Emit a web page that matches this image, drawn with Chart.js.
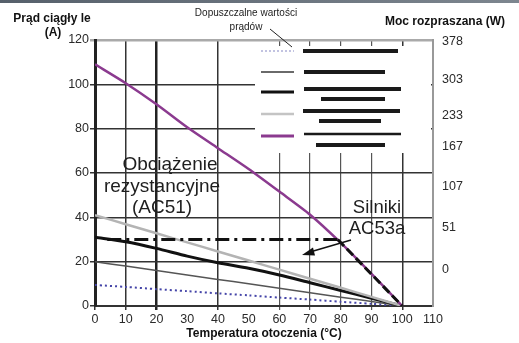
<!DOCTYPE html>
<html><head><meta charset="utf-8">
<script src="https://cdn.jsdelivr.net/npm/chart.js@4/dist/chart.umd.min.js"></script>
<style>html,body{margin:0;padding:0;background:#fff;}#wrap{position:relative;width:519px;height:343px;}</style>
</head><body><div id="wrap"><canvas id="c" width="519" height="343"></canvas></div>
<script>
// ---- data ----
const temperature   = [0, 10, 20, 30, 40, 50, 60, 70, 80, 90, 100];
const seriesPurple  = [109, 100.5, 91, 80.6, 71.2, 61.8, 51.6, 41.2, 28.5, 14.5, 0];
const seriesLight   = [41, 36.9, 32.8, 28.7, 24.6, 20.5, 16.4, 12.3, 8.2, 4.1, 0];
const seriesBlack   = [31, 29, 26, 22.5, 19.5, 17, 14, 10.5, 7, 3.5, 0];
const seriesGray    = [20, 18, 16, 14, 12, 10, 8, 6, 4, 2, 0];
const seriesDotted  = [9.5, 8.6, 7.6, 6.7, 5.7, 4.8, 3.8, 2.9, 1.9, 1, 0];
const motorTemp     = [4, 79, 100];
const motorCurrent  = [30, 30, 0];
const rightTickLabels = ['0', '51', '107', '167', '233', '303', '378'];
const rightTickAt     = [16.5, 35.3, 53.8, 71.9, 85.7, 102.3, 119.1];

const FONT = '"Liberation Sans", Arial, Helvetica, sans-serif';
const pts = (xs, ys) => xs.map((x, i) => ({x, y: ys[i]}));

const overlay = {
  id: 'overlay',
  beforeDraw(chart) {
    const c = chart.ctx;
    c.save();
    c.fillStyle = '#fff'; c.fillRect(0, 0, chart.width, chart.height);
    const g = c.createLinearGradient(0, 0, chart.width, 0);
    g.addColorStop(0, '#56606b'); g.addColorStop(1, '#7d868f');
    c.fillStyle = g; c.fillRect(0, 0, chart.width, 3);
    c.restore();
  },
  beforeDatasetsDraw(chart) {
    const c = chart.ctx;
    c.save();
    c.fillStyle = '#fff';
    c.fillRect(255, 46, 176, 107);
    c.restore();
  },
  afterDraw(chart) {
    const c = chart.ctx;
    c.save();
    // legend samples
    const rows = [
      {y: 51,  color: '#aeb0d8', w: 1.5, dash: [2, 2]},
      {y: 72,  color: '#6a6a6a', w: 2,   dash: []},
      {y: 92,  color: '#111',    w: 3,   dash: []},
      {y: 114, color: '#c4c4c4', w: 2.5, dash: []},
      {y: 136, color: '#8b3a8f', w: 3,   dash: []}
    ];
    rows.forEach(r => {
      c.beginPath(); c.setLineDash(r.dash); c.lineWidth = r.w; c.strokeStyle = r.color;
      c.moveTo(261, r.y); c.lineTo(294, r.y); c.stroke();
    });
    c.setLineDash([]);
    // redaction bars in the legend
    c.fillStyle = '#1a1a1a';
    [[303,398,51,4],[304,385,72,4],[304,401,89,4],[321,385,99,4],[303,400,111,4],[319,381,121,4],[304,401,134,2.5],[316,385,145,4]]
      .forEach(b => c.fillRect(b[0], b[2] - b[3]/2, b[1]-b[0], b[3]));
    // legend title + leader
    c.fillStyle = '#222'; c.textAlign = 'center'; c.textBaseline = 'middle';
    c.font = '10px ' + FONT;
    c.fillText('Dopuszczalne wartości', 246, 13);
    c.fillText('prądów', 246, 27);
    c.beginPath(); c.strokeStyle = '#222'; c.lineWidth = 1;
    c.moveTo(270, 29); c.lineTo(292, 47); c.stroke();
    // axis titles
    c.font = 'bold 12px ' + FONT; c.fillStyle = '#111';
    c.fillText('Prąd ciągły le', 52, 19);
    c.fillText('(A)', 53, 33);
    c.fillText('Moc rozpraszana (W)', 445, 22);
    // annotations
    c.font = '19px ' + FONT; c.fillStyle = '#1e1e1e';
    c.fillText('Obciążenie', 170, 165);
    c.fillText('rezystancyjne', 162, 187);
    c.fillText('(AC51)', 162, 208);
    c.font = '18.5px ' + FONT;
    c.fillText('Silniki', 377, 208);
    c.fillText('AC53a', 377, 229);
    // arrow
    c.beginPath(); c.strokeStyle = '#111'; c.lineWidth = 1.5;
    c.moveTo(351, 240); c.lineTo(310, 252); c.stroke();
    c.beginPath(); c.fillStyle = '#111';
    c.moveTo(302, 255); c.lineTo(313, 247.5); c.lineTo(315, 255.5); c.closePath(); c.fill();
    c.restore();
  }
};

const xGrid = {10:['#333',1.5],20:['#222',2.5],30:['rgba(0,0,0,0)',0],40:['#333',1.5],50:['rgba(0,0,0,0)',0],
  60:['#555',1.2],70:['#555',1.2],80:['#555',1.2],90:['#555',1.2],100:['#333',1.5],110:['rgba(0,0,0,0)',0]};

new Chart(document.getElementById('c'), {
  type: 'line',
  data: {
    datasets: [
      {label: 'AC53a', data: pts(motorTemp, motorCurrent), borderColor: '#111', borderWidth: 3, pointRadius: 0, tension: 0,
        segment: {borderDash: ctx => ctx.p0DataIndex === 0 ? [14, 5, 3, 5] : [9, 4]}},
      {label: 'purple', data: pts(temperature, seriesPurple), borderColor: '#8b3a8f', borderWidth: 2.5, pointRadius: 0, tension: 0.25},
      {label: 'light', data: pts(temperature, seriesLight), borderColor: '#b4b4b4', borderWidth: 2.5, pointRadius: 0, tension: 0.25},
      {label: 'black', data: pts(temperature, seriesBlack), borderColor: '#111', borderWidth: 3, pointRadius: 0, tension: 0.25},
      {label: 'gray', data: pts(temperature, seriesGray), borderColor: '#555', borderWidth: 1.5, pointRadius: 0, tension: 0.25},
      {label: 'dotted', data: pts(temperature, seriesDotted), borderColor: '#4545a8', borderWidth: 2, borderDash: [2, 3], pointRadius: 0, tension: 0.25}
    ]
  },
  options: {
    responsive: false, animation: false, devicePixelRatio: 1,
    layout: {padding: {top: 40, left: 0, right: 0, bottom: 0}},
    plugins: {legend: {display: false}, tooltip: {enabled: false}},
    scales: {
      x: {
        type: 'linear', min: 0, max: 110,
        afterFit: s => { s.height = 37; },
        border: {display: true, color: '#333', width: 2},
        grid: {
          color: ctx => (xGrid[ctx.tick.value] || ['#333',1.5])[0],
          lineWidth: ctx => (xGrid[ctx.tick.value] || ['#333',1.5])[1],
          tickLength: 4
        },
        ticks: {stepSize: 10, autoSkip: false, maxRotation: 0, padding: 2, color: '#2a2a2a', font: {family: FONT, size: 12.5}},
        title: {display: true, text: 'Temperatura otoczenia (°C)', color: '#111', font: {family: FONT, size: 12, weight: 'bold'}, padding: {top: 0, bottom: 2}}
      },
      y: {
        type: 'linear', min: 0, max: 120, position: 'left',
        afterFit: s => { s.width = 95; },
        border: {display: true, color: '#222', width: 3},
        grid: {
          color: ctx => ctx.tick.value === 120 ? '#aaa' : '#333',
          lineWidth: ctx => ctx.tick.value === 120 ? 2.5 : 1.5,
          tickLength: 5
        },
        ticks: {stepSize: 20, padding: 1, color: '#2a2a2a', font: {family: FONT, size: 12.5}}
      },
      y2: {
        type: 'linear', min: 0, max: 120, position: 'right',
        afterFit: s => { s.width = 86; },
        afterBuildTicks: s => { s.ticks = rightTickAt.map(v => ({value: v})); },
        border: {display: true, color: '#999', width: 2},
        grid: {display: false, drawTicks: false, tickLength: 0},
        ticks: {autoSkip: false, padding: 9, color: '#2a2a2a', font: {family: FONT, size: 12.5},
          callback: (v, i) => rightTickLabels[i]}
      }
    }
  },
  plugins: [overlay]
});
</script>
</body></html>
